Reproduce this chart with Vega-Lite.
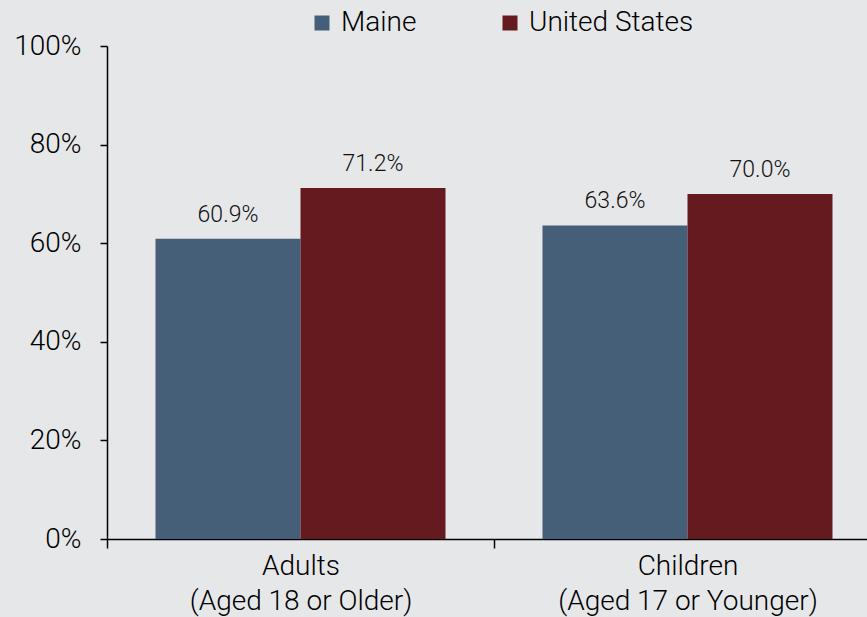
{
  "$schema": "https://vega.github.io/schema/vega-lite/v6.json",
  "autosize": "none",
  "width": 774,
  "height": 493,
  "padding": {"left": 107, "top": 46, "right": 0, "bottom": 78},
  "background": "#e6e7e9",
  "config": {
    "view": {"stroke": null},
    "font": "Roboto",
    "axis": {"labelFontWeight": 300},
    "legend": {"labelFontWeight": 300},
    "text": {"fontWeight": 300}
  },
  "data": {
    "values": [
      {"group": "Adults|(Aged 18 or Older)", "region": "Maine", "value": 0.609},
      {"group": "Adults|(Aged 18 or Older)", "region": "United States", "value": 0.712},
      {"group": "Children|(Aged 17 or Younger)", "region": "Maine", "value": 0.636},
      {"group": "Children|(Aged 17 or Younger)", "region": "United States", "value": 0.700}
    ]
  },
  "encoding": {
    "x": {
      "field": "group",
      "type": "nominal",
      "sort": null,
      "scale": {"paddingInner": 0, "paddingOuter": 0},
      "axis": {
        "title": null,
        "labelAngle": 0,
        "labelExpr": "split(datum.label, '|')",
        "labelFontSize": 28,
        "labelLimit": 500,
        "labelColor": "#000000",
        "labelPadding": 4,
        "labelLineHeight": 35,
        "tickBand": "extent",
        "tickSize": 9,
        "tickColor": "#000000",
        "domainColor": "#000000",
        "domainWidth": 1.5,
        "tickWidth": 1.5
      }
    },
    "xOffset": {
      "field": "region",
      "type": "nominal",
      "sort": ["Maine", "United States"],
      "scale": {"paddingInner": 0, "paddingOuter": 0.3345}
    },
    "y": {
      "field": "value",
      "type": "quantitative",
      "scale": {"domain": [0, 1]},
      "axis": {
        "title": null,
        "values": [0, 0.2, 0.4, 0.6, 0.8, 1],
        "format": "%",
        "labelFontSize": 28,
        "labelColor": "#000000",
        "labelPadding": 19,
        "grid": false,
        "tickSize": 7,
        "tickColor": "#000000",
        "domainColor": "#000000",
        "domainWidth": 1.5,
        "tickWidth": 1.5
      }
    }
  },
  "layer": [
    {
      "mark": {"type": "bar"},
      "encoding": {
        "color": {
          "field": "region",
          "type": "nominal",
          "scale": {"domain": ["Maine", "United States"], "range": ["#465f78", "#641a1e"]},
          "legend": {
            "title": null,
            "orient": "none",
            "direction": "horizontal",
            "legendX": 201,
            "legendY": -37,
            "symbolType": "square",
            "symbolSize": 225,
            "symbolStrokeWidth": 0,
            "labelFontSize": 28,
            "labelLimit": 400,
            "labelColor": "#000000",
            "labelOffset": 5,
            "columnPadding": 79
          }
        }
      }
    },
    {
      "mark": {"type": "text", "baseline": "alphabetic", "dy": -17, "fontSize": 23, "color": "#111111", "fontWeight": 300},
      "encoding": {
        "text": {"field": "value", "type": "quantitative", "format": ".1%"},
        "detail": {"field": "region"}
      }
    }
  ]
}
